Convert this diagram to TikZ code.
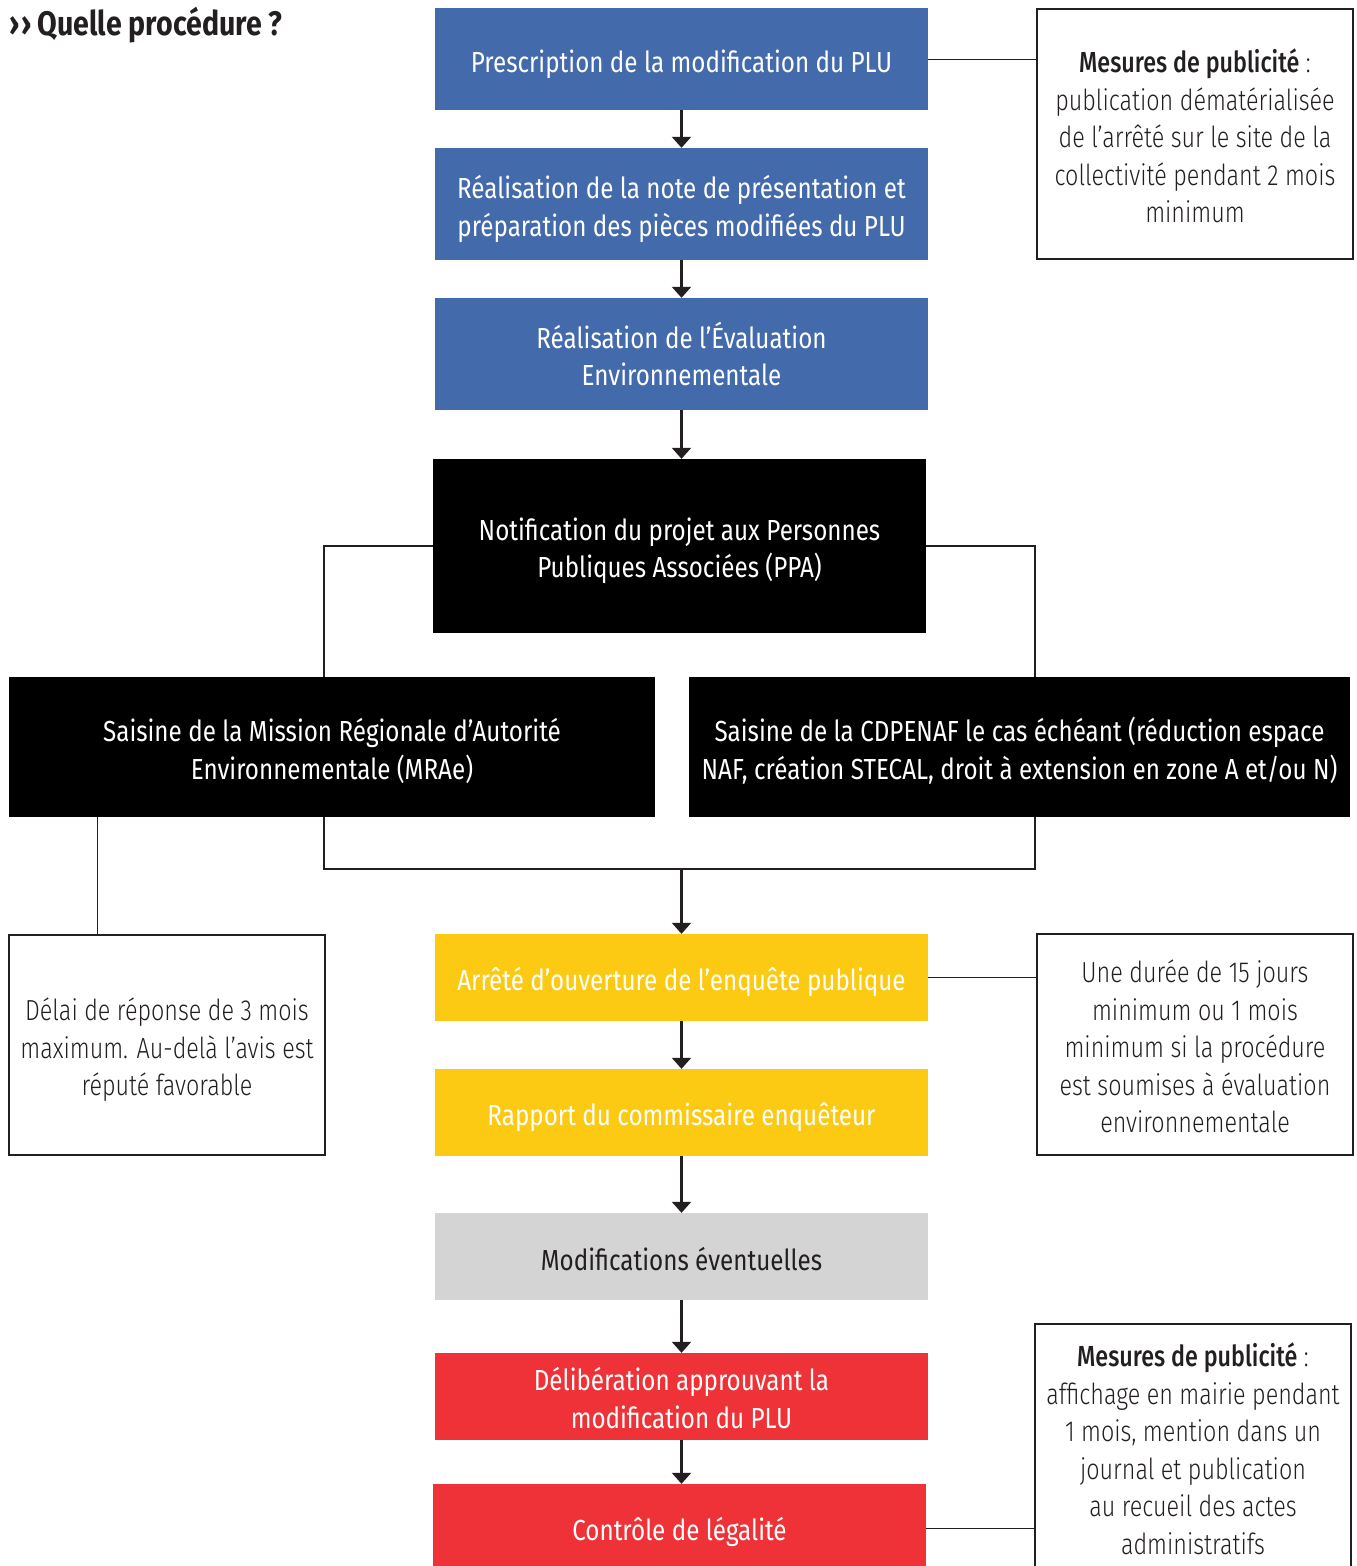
\documentclass[tikz,border=0pt]{standalone}
\usepackage{fontspec}
\usetikzlibrary{arrows.meta}
\newfontfamily\boxfam{Fira Sans}[FakeStretch=0.835]
\newfontfamily\notefam{Fira Sans Light}[FakeStretch=0.805,BoldFont={Fira Sans Medium},BoldFeatures={FakeStretch=0.805}]
\newfontfamily\titlefam{Fira Sans}[FakeStretch=0.84]
\definecolor{cblue}{HTML}{436AAB}
\definecolor{cyellow}{HTML}{FCCA12}
\definecolor{cgray}{HTML}{D4D4D4}
\definecolor{cred}{HTML}{EE3237}
\definecolor{cdark}{HTML}{231F20}
\begin{document}
\begin{tikzpicture}[x=1pt,y=-1pt,
  stepbox/.style={rectangle,inner sep=0pt},
  steptext/.style={inner sep=0pt,align=center,text=white,
    font=\boxfam\fontsize{29}{37.5}\selectfont},
  notebox/.style={rectangle,draw=cdark,line width=1.3pt,inner sep=0pt},
  notetext/.style={inner sep=0pt,align=center,text=cdark,
    font=\notefam\fontsize{29}{37.5}\selectfont},
  arr/.style={draw=cdark,line width=2.4pt,-{Triangle[width=19pt,length=11pt]}},
  link/.style={draw=cdark,line width=1pt},
  bracket/.style={draw=cdark,line width=2.2pt,line join=miter}]
\useasboundingbox (0,0) rectangle (1357,1566);
\clip (0,0) rectangle (1357,1566);
\fill[white] (0,0) rectangle (1357,1566);

\node[anchor=west,text=cdark,inner sep=0pt,font=\titlefam\bfseries\fontsize{34}{40}\selectfont] (title) at (9,25) {›\kern2pt›\kern6pt Quelle procédure ?};

% step boxes
\node[stepbox,fill=cblue,minimum width=493pt,minimum height=102pt] (b1) at (681.5,59) {};
\node[stepbox,fill=cblue,minimum width=493pt,minimum height=112pt] (b2) at (681.5,204) {};
\node[stepbox,fill=cblue,minimum width=493pt,minimum height=112pt] (b3) at (681.5,354) {};
\node[stepbox,fill=black,minimum width=493pt,minimum height=174pt] (b4) at (679.5,546) {};
\node[stepbox,fill=black,minimum width=646pt,minimum height=140pt] (b5) at (332,747) {};
\node[stepbox,fill=black,minimum width=661pt,minimum height=140pt] (b6) at (1019.5,747) {};
\node[stepbox,fill=cyellow,minimum width=493pt,minimum height=87pt] (b7) at (681.5,977.5) {};
\node[stepbox,fill=cyellow,minimum width=493pt,minimum height=87pt] (b8) at (681.5,1112.5) {};
\node[stepbox,fill=cgray,minimum width=493pt,minimum height=87pt] (b9) at (681.5,1256.5) {};
\node[stepbox,fill=cred,minimum width=493pt,minimum height=87pt] (b10) at (681.5,1396.5) {};
\node[stepbox,fill=cred,minimum width=493pt,minimum height=88pt] (b11) at (679.5,1528) {};

\node[steptext] (t1) at ([yshift=-5pt]b1.center) {Prescription de la modification du PLU};
\node[steptext] (t2) at ([yshift=-5pt]b2.center) {Réalisation de la note de présentation et\\préparation des pièces modifiées du PLU};
\node[steptext] (t3) at ([yshift=0pt]b3.center) {Réalisation de l’Évaluation\\Environnementale};
\node[steptext] (t4) at ([yshift=-5pt]b4.center) {Notification du projet aux Personnes\\Publiques Associées (PPA)};
\node[steptext] (t5) at ([yshift=-4pt]b5.center) {Saisine de la Mission Régionale d’Autorité\\Environnementale (MRAe)};
\node[steptext] (t6) at ([yshift=-3.5pt]b6.center) {Saisine de la CDPENAF le cas échéant (réduction espace\\NAF, création STECAL, droit à extension en zone A et/ou N)};
\node[steptext] (t7) at ([yshift=-4pt]b7.center) {Arrêté d’ouverture de l’enquête publique};
\node[steptext] (t8) at ([yshift=-5pt]b8.center) {Rapport du commissaire enquêteur};
\node[steptext,text=cdark] (t9) at ([yshift=-3pt]b9.center) {Modifications éventuelles};
\node[steptext] (t10) at ([yshift=-1.5pt]b10.center) {Délibération approuvant la\\modification du PLU};
\node[steptext] (t11) at ([yshift=-4pt]b11.center) {Contrôle de légalité};

% note boxes
\node[notebox,minimum width=316pt,minimum height=250pt] (n1) at (1195,134) {};
\node[notebox,minimum width=316pt,minimum height=221pt] (n2) at (1195,1044.5) {};
\node[notebox,minimum width=316pt,minimum height=220pt] (n4) at (167,1045) {};
\node[notebox,minimum width=316pt,minimum height=258pt] (n3) at (1193,1453) {};

\node[notetext] (m1) at ([yshift=-2pt]n1.center) {{\bfseries Mesures de publicité} :\\publication dématérialisée\\de l’arrêté sur le site de la\\collectivité pendant 2 mois\\minimum};
\node[notetext] (m2) at ([yshift=-2pt]n2.center) {Une durée de 15 jours\\minimum ou 1 mois\\minimum si la procédure\\est soumises à évaluation\\environnementale};
\node[notetext] (m4) at ([yshift=-5pt]n4.center) {Délai de réponse de 3 mois\\maximum. Au-delà l’avis est\\réputé favorable};
\node[notetext,text depth=0pt] (m3) at ([yshift=4.5pt]n3.center) {{\bfseries Mesures de publicité} :\\affichage en mairie pendant\\1 mois, mention dans un\\journal et publication\\au recueil des actes\\administratifs};

% connectors
\draw[link] (b1.east) -- (b1.east -| n1.west);
\draw[arr] (b1.south) -- (b2.north);
\draw[arr] (b2.south) -- (b3.north);
\draw[arr] (b3.south) -- (b3.south |- b4.north);
\coordinate (lx) at (324,0);
\coordinate (rx) at (1035,0);
\coordinate (jy) at (0,869);
\draw[bracket] (b4.west) -| (lx |- b5.north);
\draw[bracket] (b4.east) -| (rx |- b6.north);
\draw[bracket] (lx |- b5.south) |- (rx |- jy) -- (rx |- b6.south);
\draw[arr] (b7.north |- jy) -- (b7.north);
\coordinate (nx) at (97,0);
\draw[link] (nx |- b5.south) -- (nx |- n4.north);
\draw[link] (b7.east) -- (b7.east -| n2.west);
\draw[arr] (b7.south) -- (b8.north);
\draw[arr] (b8.south) -- (b9.north);
\draw[arr] (b9.south) -- (b10.north);
\draw[arr] (b10.south) -- (b10.south |- b11.north);
\draw[link] (b11.east) -- (b11.east -| n3.west);
\end{tikzpicture}
\end{document}
